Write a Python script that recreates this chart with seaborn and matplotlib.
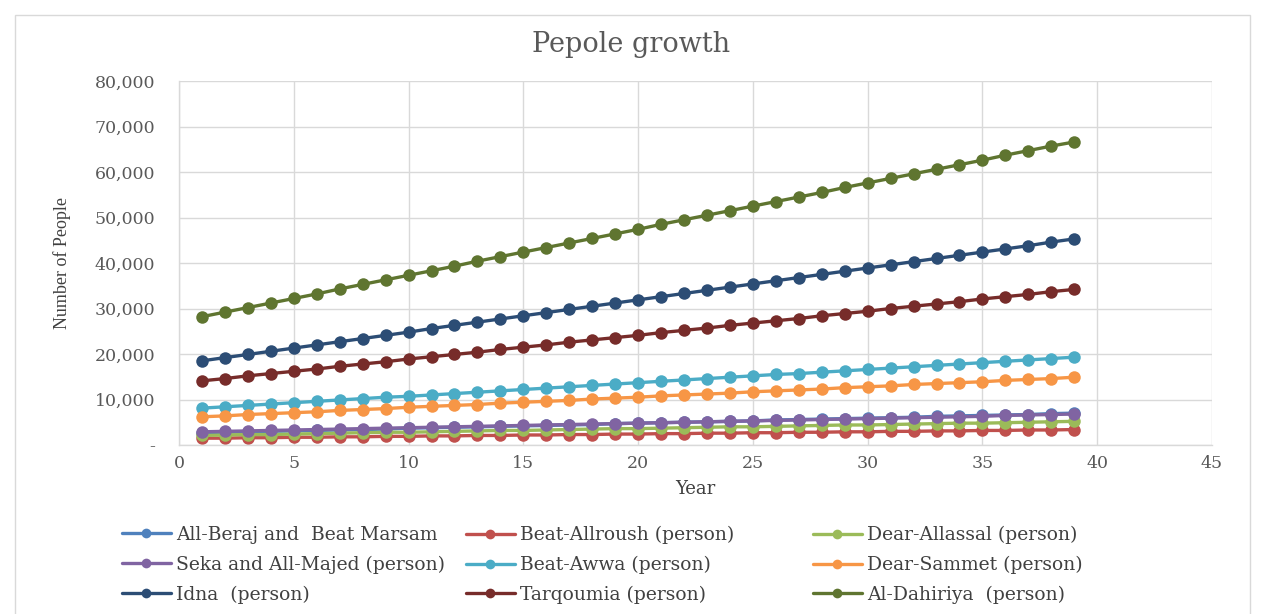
import pandas as pd
import matplotlib
matplotlib.use('Agg')
import matplotlib.pyplot as plt
from matplotlib.lines import Line2D
from matplotlib.patches import Rectangle
from matplotlib.ticker import FuncFormatter, MultipleLocator
import seaborn as sns

years = list(range(1, 40))

all_beraj = [2700, 2800, 2900, 3000, 3100, 3200, 3300, 3400, 3500, 3700,
             3800, 3900, 4000, 4100, 4200, 4300, 4400, 4500, 4700, 4800,
             4900, 5000, 5100, 5200, 5300, 5500, 5600, 5700, 5800, 5900,
             6000, 6100, 6300, 6400, 6500, 6600, 6700, 6900, 7000]
beat_allroush = [1500, 1500, 1600, 1600, 1700, 1700, 1800, 1800, 1900, 1900,
                 2000, 2000, 2100, 2100, 2200, 2200, 2300, 2300, 2400, 2400,
                 2500, 2500, 2600, 2600, 2700, 2700, 2800, 2800, 2900, 2900,
                 3000, 3000, 3100, 3100, 3200, 3200, 3300, 3300, 3400]
dear_allassal = [2100, 2200, 2300, 2300, 2400, 2500, 2600, 2700, 2800, 2800,
                 2900, 3000, 3100, 3200, 3200, 3300, 3400, 3500, 3600, 3600,
                 3700, 3800, 3900, 4000, 4000, 4100, 4200, 4300, 4400, 4400,
                 4500, 4600, 4700, 4800, 4800, 4900, 5000, 5100, 5200]
seka_majed = [2900, 3000, 3100, 3200, 3300, 3400, 3500, 3600, 3700, 3800,
              3900, 4000, 4100, 4200, 4300, 4400, 4500, 4600, 4700, 4800,
              4900, 5000, 5100, 5200, 5300, 5400, 5500, 5600, 5700, 5800,
              5900, 6000, 6100, 6200, 6300, 6500, 6600, 6700, 6800]
beat_awwa = [8100, 8400, 8700, 9000, 9300, 9600, 9900, 10200, 10500, 10700,
             11000, 11300, 11600, 11900, 12200, 12500, 12800, 13100, 13400, 13700,
             14000, 14300, 14600, 14900, 15200, 15500, 15700, 16000, 16300, 16600,
             16900, 17200, 17500, 17800, 18100, 18400, 18700, 19000, 19300]
dear_sammet = [6200, 6400, 6700, 6900, 7100, 7300, 7600, 7800, 8000, 8300,
               8500, 8700, 8900, 9200, 9400, 9600, 9800, 10100, 10300, 10500,
               10800, 11000, 11200, 11400, 11700, 11900, 12100, 12300, 12600, 12800,
               13000, 13300, 13500, 13700, 13900, 14200, 14400, 14600, 14900]
idna = [18500, 19200, 19900, 20600, 21300, 22000, 22700, 23400, 24100, 24800,
        25600, 26300, 27000, 27700, 28400, 29100, 29800, 30500, 31200, 31900,
        32600, 33300, 34000, 34700, 35400, 36100, 36800, 37500, 38200, 38900,
        39600, 40300, 41000, 41700, 42400, 43100, 43800, 44600, 45300]
tarqoumia = [14100, 14600, 15200, 15700, 16200, 16700, 17300, 17800, 18300, 18900,
             19400, 19900, 20400, 21000, 21500, 22000, 22600, 23100, 23600, 24100,
             24700, 25200, 25700, 26300, 26800, 27300, 27800, 28400, 28900, 29400,
             30000, 30500, 31000, 31500, 32100, 32600, 33100, 33700, 34200]
al_dahiriya = [28200, 29200, 30200, 31200, 32200, 33200, 34300, 35300, 36300, 37300,
               38300, 39300, 40400, 41400, 42400, 43400, 44400, 45400, 46400, 47400,
               48500, 49500, 50500, 51500, 52500, 53500, 54500, 55500, 56600, 57600,
               58600, 59600, 60600, 61600, 62600, 63700, 64700, 65700, 66600]

series_names = ['All-Beraj and  Beat Marsam', 'Beat-Allroush (person)', 'Dear-Allassal (person)',
                'Seka and All-Majed (person)', 'Beat-Awwa (person)', 'Dear-Sammet (person)',
                'Idna  (person)', 'Tarqoumia (person)', 'Al-Dahiriya  (person)']
series_values = [all_beraj, beat_allroush, dear_allassal, seka_majed, beat_awwa,
                 dear_sammet, idna, tarqoumia, al_dahiriya]
colors = ['#4F81BD', '#C0504D', '#9BBB59', '#8064A2', '#4BACC6',
          '#F79646', '#2C4D75', '#772C2A', '#5F7530']

frames = [pd.DataFrame({'Year': years, 'People': vals, 'Place': name})
          for name, vals in zip(series_names, series_values)]
df = pd.concat(frames, ignore_index=True)

sns.set_theme(style='whitegrid')
# the reference text is wide, DejaVu Serif gets the widths closer than Times
plt.rcParams['font.family'] = ['DejaVu Serif', 'Liberation Serif']

fig = plt.figure(figsize=(12.66, 6.14), dpi=100)
ax = fig.add_axes([179 / 1266, 1 - 445 / 614, 1033 / 1266, 364 / 614])

palette = dict(zip(series_names, colors))
sns.lineplot(data=df, x='Year', y='People', hue='Place', hue_order=series_names,
             palette=palette, marker='o', markersize=9, markeredgewidth=0,
             linewidth=2.4, legend=False, ax=ax)

ax.set_xlim(0, 45)
ax.set_ylim(0, 80000)
ax.xaxis.set_major_locator(MultipleLocator(5))
ax.yaxis.set_major_locator(MultipleLocator(10000))
ax.yaxis.set_major_formatter(FuncFormatter(lambda v, p: '-' if v == 0 else f'{int(v):,}'))
ax.grid(True, color='#d9d9d9', linewidth=1)
for side in ['top', 'right']:
    ax.spines[side].set_visible(False)
for side in ['left', 'bottom']:
    ax.spines[side].set_color('#d9d9d9')
    ax.spines[side].set_linewidth(1)
ax.tick_params(axis='y', length=0, pad=17, labelsize=12.5, labelcolor='#595959')
ax.tick_params(axis='x', length=0, pad=7, labelsize=12.5, labelcolor='#595959')

ax.set_xlabel('Year', fontsize=13, color='#404040')
ax.set_ylabel('Number of People', fontsize=13, color='#404040', family='Liberation Serif')
ax.xaxis.set_label_coords(0.5, -0.095)
ax.yaxis.set_label_coords(-0.105, 0.5)

fig.text(631 / 1266, 1 - 45 / 614, 'Pepole growth', ha='center', va='center',
         fontsize=19.5, color='#595959')

# legend: three columns drawn as separate legends so their x positions match
for col in range(3):
    handles = []
    for row in range(3):
        i = row * 3 + col
        handles.append(Line2D([0], [0], color=colors[i], linewidth=2.4, marker='o',
                              markersize=7, markeredgewidth=0, label=series_names[i]))
    x0 = [122, 466, 813][col] / 1266
    fig.legend(handles=handles, loc='upper left', bbox_to_anchor=(x0, 1 - 526 / 614),
               frameon=False, fontsize=13.5, handlelength=2.6, handletextpad=0.3,
               labelspacing=0.62, borderaxespad=0, borderpad=0, labelcolor='#404040')

fig.patches.append(Rectangle((15 / 1266, -0.05), 1235 / 1266, 1.05 - 15 / 614,
                             transform=fig.transFigure, fill=False,
                             edgecolor='#d9d9d9', linewidth=1))

fig.savefig('out.png', dpi=100)
